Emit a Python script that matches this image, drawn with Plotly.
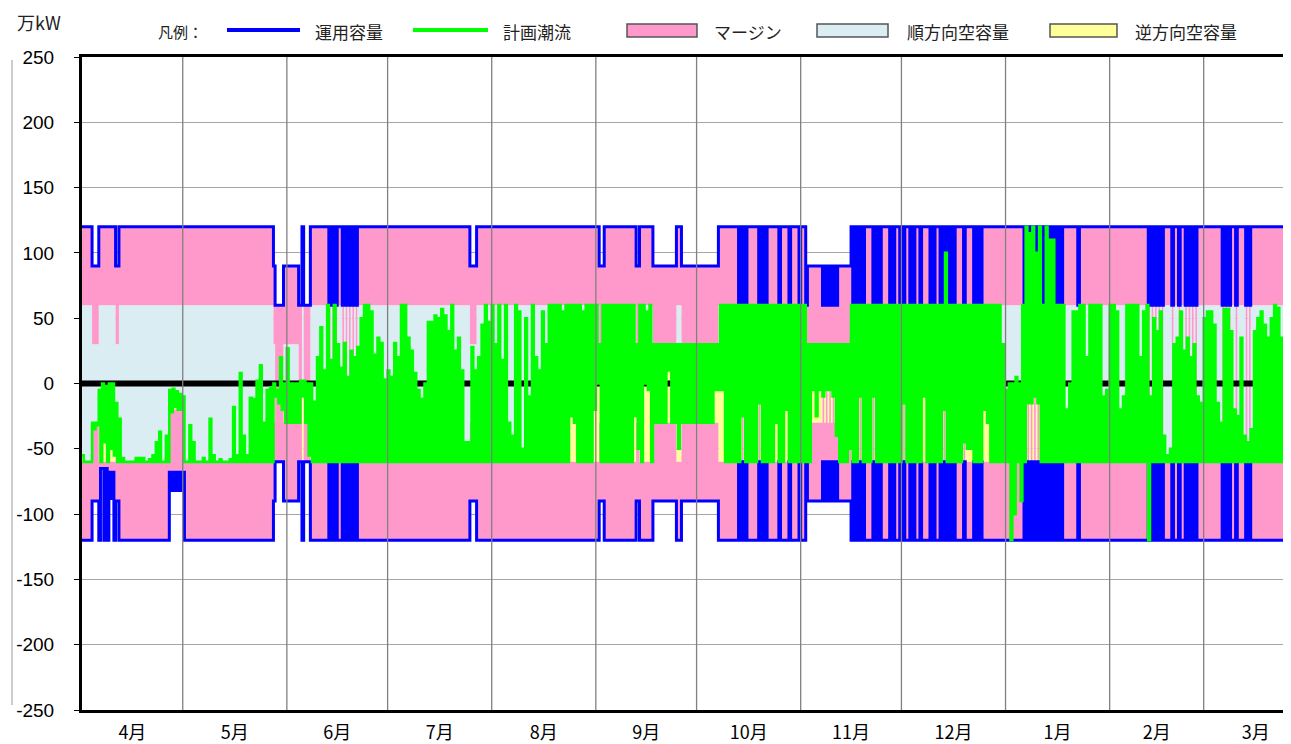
import plotly.graph_objects as go

# ---------------- data ----------------
month_labels = ["4月", "5月", "6月", "7月", "8月", "9月", "10月", "11月", "12月", "1月", "2月", "3月"]
month_days = [30, 31, 30, 31, 31, 30, 31, 30, 31, 31, 28, 31]
y_tick_values = [250, 200, 150, 100, 50, 0, -50, -100, -150, -200, -250]
y_tick_text = ["250", "200", "150", "100", "50", "0", "-50", "-100", "-150", "-200", "-250"]
x_visible = [0, 360]          # days shown (chart is cut on the right)

cap_default = 120             # 運用容量 (万kW)
margin_fwd = 60               # マージン 順方向
margin_rev = 60               # マージン 逆方向

# 運用容量 changes: (start_day, end_day, value first half-day, value second half-day)
cap_fwd_segments = [
    (3.2, 5.2, 90, 90), (10.1, 10.8, 90, 90), (57.0, 57.5, 90, 90), (57.5, 59.8, 60, 60),
    (59.8, 64.3, 90, 90), (64.3, 65.4, 60, 60), (66.0, 68.0, 60, 60),
    (72.8, 75.8, 120, 60), (77.3, 81.8, 120, 60), (115.5, 117.3, 90, 90),
    (154.2, 155.4, 90, 90), (165.1, 165.9, 90, 90), (170.1, 177.0, 90, 90), (178.5, 189.4, 90, 90),
    (195.4, 198.4, 120, 60), (200.9, 203.8, 120, 60), (206.8, 208.6, 120, 60), (209.8, 210.8, 120, 60),
    (212.8, 213.8, 120, 60), (215.2, 216.2, 120, 60), (216.2, 220.5, 90, 90), (220.5, 225.6, 90, 60),
    (225.6, 229.0, 90, 90), (229.1, 232.8, 120, 60), (235.4, 238.1, 120, 60), (240.0, 242.0, 120, 60),
    (242.9, 244.0, 120, 60), (244.4, 245.5, 120, 60), (246.5, 248.5, 120, 60), (249.5, 250.4, 120, 60),
    (252.0, 254.0, 120, 60), (255.4, 260.4, 120, 60), (262.3, 263.4, 120, 60), (264.9, 268.3, 120, 60),
    (280.7, 292.6, 120, 60), (296.1, 297.6, 120, 60), (317.0, 322.0, 120, 60), (323.9, 325.4, 120, 60),
    (326.4, 327.6, 120, 60), (328.4, 331.8, 120, 60), (338.8, 342.0, 120, 60), (342.8, 344.5, 120, 60),
    (346.2, 347.8, 120, 60),
]
# reverse-side capacity where it differs from the mirrored forward value
cap_rev_segments = [
    (5.5, 6.5, -65, -65), (7.0, 7.5, -65, -65), (8.0, 9.5, -68, -88), (26.0, 30.4, -68, -82),
]
# reverse-side available limit where it differs from capacity + margin
lim_rev_segments = [(5.5, 9.5, -60), (26.0, 30.4, -20)]

# 計画潮流: daily high / low (万kW)
hi_apr = [-55, -60, -60, -30, -30, -5, 0, -2, 0, 0, -15, -27, -57, -60, -60, -60, -57, -57, -57, -60,
          -58, -55, -45, -37, -60, -40, -5, -4, -6, -8]
lo_apr = [-60, -60, -60, -35, -32, -60, -45, -60, -50, -55, -60, -60, -60, -60, -60, -60, -60, -60, -60, -60,
          -60, -60, -60, -60, -60, -60, -22, -18, -20, -20]
hi_may = [-10, -60, -32, -45, -60, -60, -57, -60, -27, -55, -60, -58, -60, -60, -58, -18, -55, 8, -40, -55,
          -11, -12, 2, 14, -30, -5, -3, 0, -5, 20, 0]
lo_may = [-60] * 27 + [-10, -15, -20, -30]
hi_jun = [27, 0, 0, 0, 2, 2, 0, 0, -14, 20, 43, 10, 60, 18, 60, 30, 12, 31, 5, 25,
          20, 28, 50, 60, 60, 55, 22, 35, 31, 3]
lo_jun = [-30, -30, -30, -30, -10, -30, -55, -60] + [-60] * 22
hi_jul = [10, 5, 31, 20, 60, 60, 35, 25, 8, -5, -12, 0, 47, 47, 52, 50, 57, 52, 40, 60,
          25, 35, 10, -45, -45, 28, 10, 20, 45, 60, 47]
lo_jul = [-60] * 31
hi_aug = [60, 30, 60, 18, 60, -30, -40, 60, 55, -50, 50, -10, 60, 20, 10, 55, 30, 60, 60, 60,
          60, 55, 60, 60, 60, 60, 60, 55, 60, 60, 60]
lo_aug = [-60] * 23 + [-25, -30, -60, -60, -60, -60, -60, -20]
hi_sep = [60, 30, 60, 60, 60, 60, 60, 60, 60, 60, 60, 60, 30, 60, 60, 55, 60, 30] + [30] * 12
lo_sep = [0, -60, -60, -60, -60, -60, -60, -60, -60, -60, -60, -25, -50, -60, 0, -5, -60, -30,
          -30, -30, -30, 10, -30, -30, -50, -30, -30, -30, -30, -30]
hi_oct = [30] * 7 + [60] * 24
lo_oct = [-30] * 5 + [-5, -5, -5] + [-60] * 5 + [-25] + [-60] * 4 + [-15] + [-60] * 4 + [-30, -60, -60, -20] + [-60] * 4
hi_nov = [60, 60] + [30] * 13 + [60] * 15
lo_nov = [-60, -60, -60, -5, -25, -5, -10, -5, -5, -10, -40, -60, -60, -60, -50, -60, -60, -10, -60, -60,
          -60, -10] + [-60] * 8
hi_dec = [60] * 13 + [100] + [60] * 16 + [30]
lo_dec = [-15, -60, -60, -60, -60, -60, -10, -60, -60, -60, -60, -60, -20, -60, -60, -60, -60, -60, -45, -50,
          -50, -60, -60, -60, -20, -30, -60, -60, -60, -60, -60]
hi_jan = [-5, 0, 0, 5, 0, 60, 120, 115, 120, 100, 120, 60, 120, 110, 110, 60, 60, 60, -20, 0,
          55, 55, 60, 60, 20, 60, 60, 60, 60, -10, -5]
lo_jan = [-60, -120, -100, -60, -90, -60, -15, -15, -10, -15, -60] + [-60] * 20
hi_feb = [60, 60, 55, -20, -10, 60, 60, 60, 60, 20, 55, 60, -10, 50, 40, 55, -40, -55, -50, 30,
          35, 55, 25, 35, 20, 30, -10, -15]
lo_feb = [-60] * 11 + [-120] + [-60] * 16
hi_mar = [50, 55, 55, 45, -15, -30, 57, 57, 40, -20, -25, 35, -40, -45, -35, 40, 50, 55, 45, 35,
          50, 60, 58, 35, -10, 40, 30, 30, 20, 40, 30]
lo_mar = [-60] * 31

# ---------------- build series (half-day steps) ----------------
flow_hi = hi_apr + hi_may + hi_jun + hi_jul + hi_aug + hi_sep + hi_oct + hi_nov + hi_dec + hi_jan + hi_feb + hi_mar
flow_lo = lo_apr + lo_may + lo_jun + lo_jul + lo_aug + lo_sep + lo_oct + lo_nov + lo_dec + lo_jan + lo_feb + lo_mar
n_days = len(flow_hi)

slot_x = []
for d in range(n_days):
    slot_x += [d, d + 0.5]

flow = []
for h, l in zip(flow_hi, flow_lo):
    flow += [h, l]


def apply_segments(base, segments):
    out = list(base)
    for i, x in enumerate(slot_x):
        c = x + 0.25
        for s, e, a, b in segments:
            if s <= c < e:
                out[i] = a if i % 2 == 0 else b
    return out


cap_fwd = apply_segments([cap_default] * len(slot_x), cap_fwd_segments)
cap_rev = apply_segments([-v for v in cap_fwd], cap_rev_segments)
lim_fwd = [c - margin_fwd for c in cap_fwd]
lim_rev = [c + margin_rev for c in cap_rev]
for i, x in enumerate(slot_x):
    for s, e, v in lim_rev_segments:
        if s <= x + 0.25 < e:
            lim_rev[i] = v

# close the last step
xs = slot_x + [n_days]


def closed(vals):
    return vals + [vals[-1]]


# ---------------- styling ----------------
# The page body adds an 8px offset, so the figure is 8px smaller and all page
# pixel positions are shifted by OFF.
OFF = 8
W, H = 1291 - OFF, 744 - OFF
L, R, T, B = 82 - OFF, 0, 57 - OFF, 34
PW, PH = W - L - R, H - T - B

PINK = "#FF99CC"
LIGHTBLUE = "#DAEDF3"
YELLOW = "#FFFF99"
BLUE = "#0000FF"
GREEN = "#00FF00"
JP = "Noto Sans CJK JP"
NUM = "Liberation Sans, Arial, sans-serif"


def px(xp):
    return (xp - OFF - L) / PW


def py(yp):
    return (H - B - (yp - OFF)) / PH


fig = go.Figure()
hidden = dict(width=0, shape="hv")
fig.add_trace(go.Scatter(x=xs, y=closed(lim_rev), mode="lines", line=hidden, hoverinfo="skip"))
fig.add_trace(go.Scatter(x=xs, y=closed(flow), mode="lines", line=hidden, fill="tonexty",
                         fillcolor=YELLOW, hoverinfo="skip"))
fig.add_trace(go.Scatter(x=xs, y=closed(lim_fwd), mode="lines", line=hidden, fill="tonexty",
                         fillcolor=LIGHTBLUE, hoverinfo="skip"))
fig.add_trace(go.Scatter(x=xs, y=closed(cap_fwd), mode="lines", line=hidden, fill="tonexty",
                         fillcolor=PINK, hoverinfo="skip"))
fig.add_trace(go.Scatter(x=xs, y=closed(cap_rev), mode="lines", line=hidden, hoverinfo="skip"))
fig.add_trace(go.Scatter(x=xs, y=closed(lim_rev), mode="lines", line=hidden, fill="tonexty",
                         fillcolor=PINK, hoverinfo="skip"))
# zero line
fig.add_trace(go.Scatter(x=[0, n_days], y=[0, 0], mode="lines", line=dict(color="black", width=6),
                         hoverinfo="skip"))
# 運用容量
fig.add_trace(go.Scatter(x=xs, y=closed(cap_fwd), mode="lines", line=dict(color=BLUE, width=3, shape="hv"),
                         name="運用容量"))
fig.add_trace(go.Scatter(x=xs, y=closed(cap_rev), mode="lines", line=dict(color=BLUE, width=3, shape="hv"),
                         name="運用容量"))
# 計画潮流
fig.add_trace(go.Scatter(x=xs, y=closed(flow), mode="lines", line=dict(color=GREEN, width=2.6, shape="hv"),
                         name="計画潮流"))

# month boundaries and label positions
bounds = [0]
for m in month_days:
    bounds.append(bounds[-1] + m)
mids = [(bounds[i] + bounds[i + 1]) / 2 for i in range(len(month_days))]

shapes = []
for b in bounds[1:-1]:
    shapes.append(dict(type="line", xref="x", yref="y", x0=b, x1=b, y0=-250, y1=250,
                       line=dict(color="#808080", width=1.3), layer="above"))
# thin line at far left
shapes.append(dict(type="line", xref="paper", yref="paper", x0=px(12), x1=px(12), y0=py(705), y1=py(60),
                   line=dict(color="#999999", width=1)))

annotations = [
    dict(text="万kW", xref="paper", yref="paper", x=px(15), y=py(22), xanchor="left", yanchor="middle",
         showarrow=False, font=dict(family=JP, size=18, color="#222222")),
    dict(text="凡例：", xref="paper", yref="paper", x=px(156), y=py(31), xanchor="left", yanchor="middle",
         showarrow=False, font=dict(family=JP, size=15, color="#222222")),
]

legend_items = [
    ("line", BLUE, 227, 300, "運用容量", 313),
    ("line", GREEN, 413, 488, "計画潮流", 501),
    ("box", PINK, 627, 697, "マージン", 712),
    ("box", LIGHTBLUE, 817, 888, "順方向空容量", 905),
    ("box", YELLOW, 1050, 1117, "逆方向空容量", 1133),
]
for kind, color, x0, x1, label, tx in legend_items:
    if kind == "line":
        shapes.append(dict(type="line", xref="paper", yref="paper", x0=px(x0), x1=px(x1), y0=py(30), y1=py(30),
                           line=dict(color=color, width=4)))
    else:
        shapes.append(dict(type="rect", xref="paper", yref="paper", x0=px(x0), x1=px(x1), y0=py(37), y1=py(24),
                           fillcolor=color, line=dict(color="#555555", width=1.5)))
    annotations.append(dict(text=label, xref="paper", yref="paper", x=px(tx), y=py(31), xanchor="left",
                            yanchor="middle", showarrow=False, font=dict(family=JP, size=17, color="#222222")))

fig.update_layout(
    width=W, height=H,
    margin=dict(l=L, r=R, t=T, b=B, autoexpand=False),
    paper_bgcolor="white", plot_bgcolor="white",
    showlegend=False,
    shapes=shapes, annotations=annotations,
    xaxis=dict(range=x_visible, tickvals=mids, ticktext=month_labels, ticks="", showgrid=False,
               zeroline=False, showline=True, linecolor="black", linewidth=3, mirror=True,
               tickfont=dict(family=JP, size=18, color="black"), ticklabelstandoff=4, fixedrange=True,
               automargin=False),
    yaxis=dict(range=[-250, 250], tickvals=y_tick_values, ticktext=y_tick_text, ticks="outside", ticklen=5,
               tickcolor="black", showgrid=True, gridcolor="#a6a6a6", gridwidth=1, zeroline=False,
               showline=True, linecolor="black", linewidth=3, mirror=False,
               tickfont=dict(family=NUM, size=19, color="black"), ticklabelstandoff=16, fixedrange=True,
               automargin=False),
)

fig.write_html("out.html")
